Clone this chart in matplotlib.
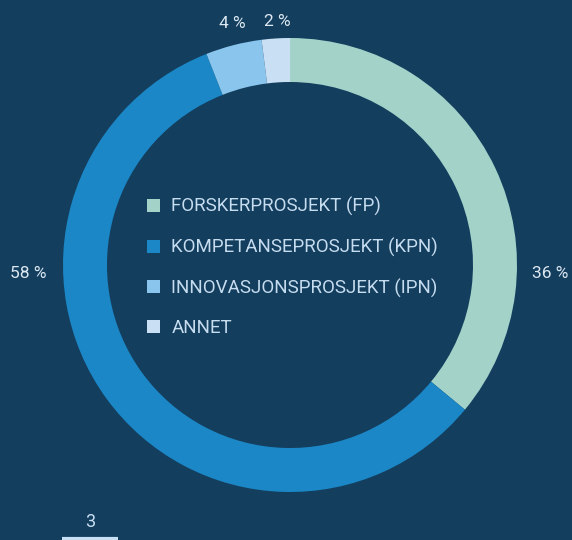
import matplotlib.pyplot as plt
from matplotlib.patches import Patch

# data
categories = ['FORSKERPROSJEKT (FP)', 'KOMPETANSEPROSJEKT (KPN)',
              'INNOVASJONSPROSJEKT (IPN)', 'ANNET']
shares = [36, 58, 4, 2]
colors = ['#a3d2c9', '#1b87c6', '#89c5ec', '#c8dff4']
page_no = '3'

bg = '#133e5e'
txt = '#dce8f2'
plt.rcParams['font.family'] = ['Roboto', 'DejaVu Sans']

fig = plt.figure(figsize=(5.72, 5.4), dpi=100, facecolor=bg)
ax = fig.add_axes([0, 0, 1, 1])
ax.set_facecolor(bg)
ax.set_xlim(0, 572)
ax.set_ylim(0, 540)
ax.set_aspect('equal')
ax.axis('off')

cx, cy, r = 290, 275, 227
wedges, _ = ax.pie(shares, colors=colors, startangle=90, counterclock=False,
                   center=(cx, cy), radius=r,
                   wedgeprops=dict(width=44, linewidth=0))
ax.set_xlim(0, 572)
ax.set_ylim(0, 540)

# percent labels outside ring
label_pos = [(550, 267), (28, 267), (232, 516), (277, 519)]
for s, (x, y) in zip(shares, label_pos):
    ax.text(x, y, f'{s} %', color=txt, fontsize=12.5, ha='center', va='center')

handles = [Patch(facecolor=c, edgecolor='none') for c in colors]
leg = ax.legend(handles, categories, loc='upper left',
                bbox_to_anchor=(147 / 572, 1 - 197 / 540),
                bbox_transform=fig.transFigure, frameon=False,
                fontsize=13.5, labelcolor='#c6dcef',
                handlelength=0.7, handleheight=0.7, handletextpad=0.6,
                labelspacing=1.15, borderpad=0, borderaxespad=0)

# page number with underline
ax.text(90, 18, page_no, color='#c8dff4', fontsize=13, ha='center', va='center')
ax.plot([62, 118], [1, 1], color='#c8dff4', linewidth=3, solid_capstyle='butt')

fig.savefig('out.png', dpi=100, facecolor=bg)
